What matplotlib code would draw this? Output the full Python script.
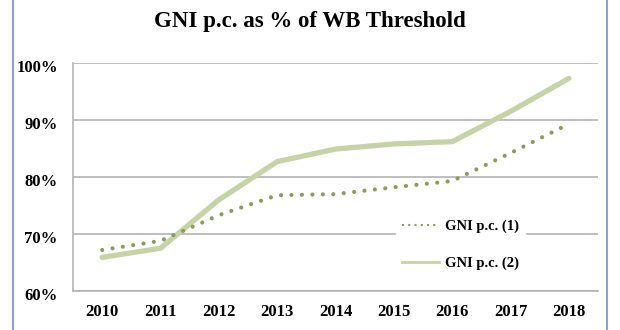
import matplotlib
matplotlib.use("Agg")
from matplotlib import pyplot as plt
from matplotlib.lines import Line2D
import matplotlib.transforms as mtransforms

years = ["2010", "2011", "2012", "2013", "2014", "2015", "2016", "2017", "2018"]
gni_1 = [67.2, 68.8, 73.3, 76.8, 77.0, 78.2, 79.3, 84.2, 89.3]
gni_2 = [65.9, 67.5, 76.0, 82.7, 84.9, 85.8, 86.2, 91.5, 97.3]
yticks = [60, 70, 80, 90, 100]

dark = "#8c9c5c"
light = "#c5d3a6"
grid = "#b4b4b4"

plt.rcParams["font.family"] = ["Liberation Serif", "DejaVu Serif"]

fig = plt.figure(figsize=(6.2, 3.3), dpi=100)
ax = fig.add_axes([73 / 620, 1 - 291 / 330, (598 - 73) / 620, (291 - 63) / 330])

x = list(range(len(years)))
ax.plot(x, gni_2, color=light, lw=3.8, solid_capstyle="round", zorder=3)
ax.plot(x, gni_1, color=dark, lw=3.0, linestyle=(0, (0.01, 2.5)),
        dash_capstyle="round", zorder=4)

ax.set_xlim(-0.5, len(years) - 0.5)
ax.set_ylim(60, 100)
ax.set_xticks(x)
ax.set_xticklabels(years, fontsize=12, fontweight="bold")
ax.set_yticks(yticks)
ax.set_yticklabels([f"{v}%" for v in yticks], fontsize=12, fontweight="bold")
ax.tick_params(axis="x", length=0, pad=9)
ax.tick_params(axis="y", length=0, pad=11)
shift = mtransforms.ScaledTranslation(0, -3 / 100, fig.dpi_scale_trans)
for lbl in ax.get_yticklabels():
    lbl.set_transform(lbl.get_transform() + shift)
ax.yaxis.grid(True, color=grid, lw=1.2)
ax.set_axisbelow(True)
for s in ["top", "right"]:
    ax.spines[s].set_visible(False)
for s in ["left", "bottom"]:
    ax.spines[s].set_color(grid)
    ax.spines[s].set_linewidth(1.2)

handles = [Line2D([0], [0], color=dark, lw=1.5, linestyle=(0, (1, 2))),
           Line2D([0], [0], color=light, lw=2)]
leg = ax.legend(handles, ["GNI p.c. (1)", "GNI p.c. (2)"], loc="lower right",
                bbox_to_anchor=(0.875, 0.035), frameon=True, framealpha=1,
                edgecolor="white", fancybox=False, labelspacing=1.6,
                handlelength=2.6, handletextpad=0.4,
                prop={"size": 10.5, "weight": "bold"})

fig.text(0.5, 1 - 22 / 330, "GNI p.c. as % of WB Threshold", ha="center",
         va="center", fontsize=16.5, fontweight="bold")

# outer frame
fig.add_artist(Line2D([13 / 620, 13 / 620], [0, 1], color="#8ea2c6", lw=1.5))
fig.add_artist(Line2D([607 / 620, 607 / 620], [0, 1], color="#8ea2c6", lw=1.5))

fig.savefig("out.png", dpi=100)
